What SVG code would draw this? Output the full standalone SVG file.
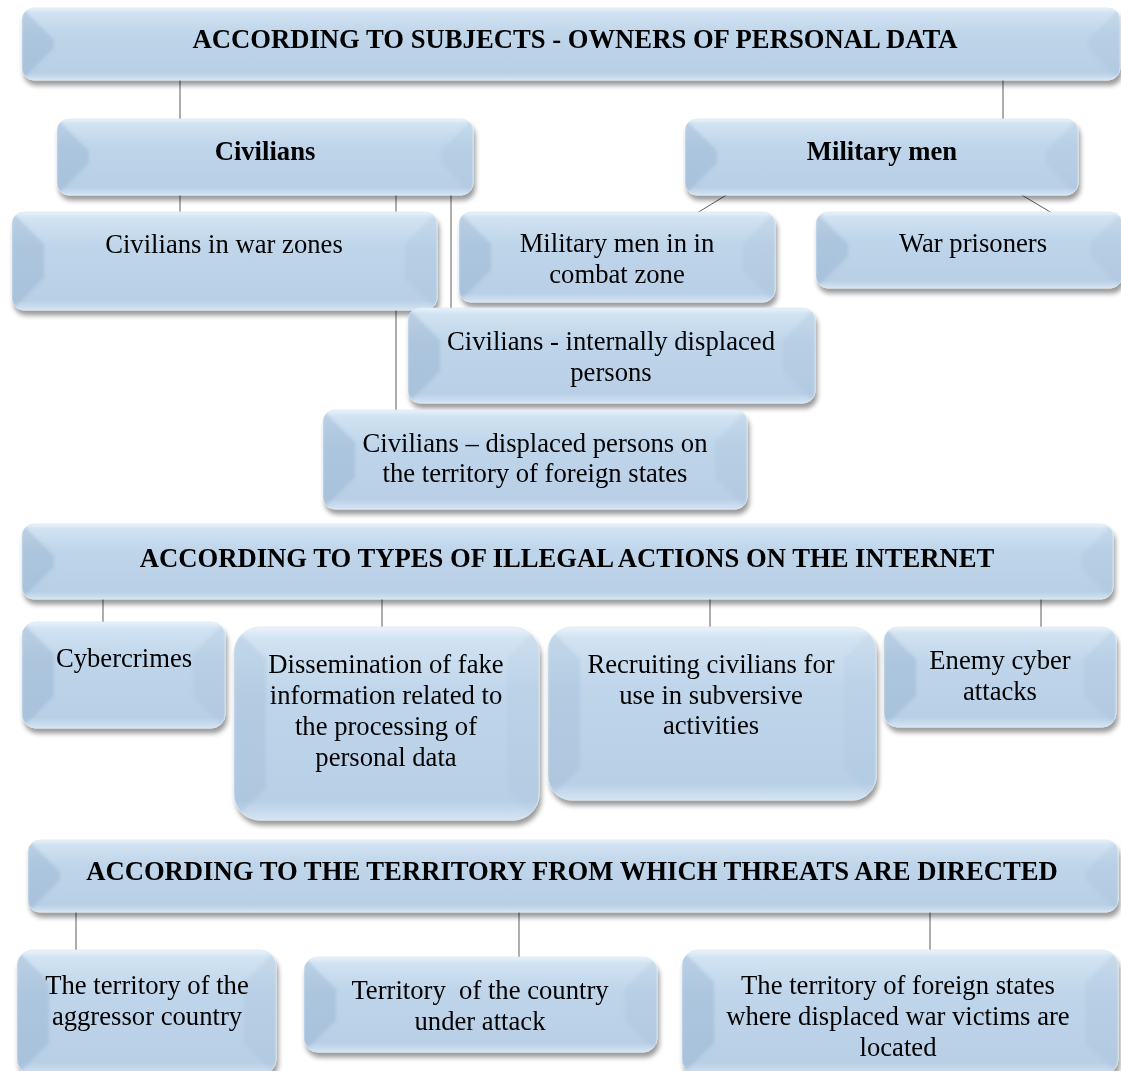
<svg xmlns="http://www.w3.org/2000/svg" width="1121" height="1071" viewBox="0 0 1121 1071">
<style>
.box{fill:url(#g);filter:url(#sh);stroke:#dbe8f4;stroke-width:0.8}
.bl{fill:#8eabc9;opacity:.36}
.br{fill:#a3bbd4;opacity:.24}
.bev{filter:url(#soft)}
text{font-family:"Liberation Serif","Times New Roman",serif;font-size:26.67px;fill:#000;text-anchor:middle}
.hd{font-weight:bold}
.conn line{stroke:#4a4a4a;stroke-width:0.9}
</style>
<defs>
<linearGradient id="g" x1="0" y1="0" x2="0" y2="1">
<stop offset="0" stop-color="#eaf3fb"/>
<stop offset="0.06" stop-color="#d2e3f2"/>
<stop offset="0.35" stop-color="#bfd5ea"/>
<stop offset="0.9" stop-color="#b8cfe6"/>
<stop offset="1" stop-color="#d3e4f3"/>
</linearGradient>
<filter id="sh" x="-5%" y="-10%" width="110%" height="135%">
<feGaussianBlur in="SourceAlpha" stdDeviation="2.5"/>
<feOffset dx="2" dy="5"/>
<feComponentTransfer><feFuncA type="linear" slope="0.4"/></feComponentTransfer>
<feMerge><feMergeNode/><feMergeNode in="SourceGraphic"/></feMerge>
</filter>
<filter id="soft" x="-5%" y="-5%" width="110%" height="110%"><feGaussianBlur stdDeviation="1.5"/></filter>
<clipPath id="c1"><rect x="22" y="8" width="1098" height="72" rx="12"/></clipPath>
<clipPath id="c2"><rect x="57" y="119" width="416" height="76" rx="12"/></clipPath>
<clipPath id="c3"><rect x="685" y="119" width="393" height="76" rx="12"/></clipPath>
<clipPath id="c4"><rect x="12" y="212" width="425" height="98" rx="12"/></clipPath>
<clipPath id="c5"><rect x="459" y="212" width="316" height="90" rx="12"/></clipPath>
<clipPath id="c6"><rect x="816" y="212" width="306" height="76" rx="12"/></clipPath>
<clipPath id="c7"><rect x="408" y="308" width="407" height="95" rx="12"/></clipPath>
<clipPath id="c8"><rect x="323" y="410" width="424" height="99" rx="12"/></clipPath>
<clipPath id="c9"><rect x="22" y="524" width="1091" height="75" rx="12"/></clipPath>
<clipPath id="c10"><rect x="22" y="622" width="203" height="106" rx="14"/></clipPath>
<clipPath id="c11"><rect x="234" y="627" width="305" height="193" rx="26"/></clipPath>
<clipPath id="c12"><rect x="548" y="627" width="328" height="173" rx="24"/></clipPath>
<clipPath id="c13"><rect x="884" y="627" width="232" height="100" rx="14"/></clipPath>
<clipPath id="c14"><rect x="28" y="840" width="1090" height="72" rx="12"/></clipPath>
<clipPath id="c15"><rect x="17" y="950" width="259" height="125" rx="16"/></clipPath>
<clipPath id="c16"><rect x="304" y="957" width="353" height="95" rx="14"/></clipPath>
<clipPath id="c17"><rect x="682" y="950" width="436" height="125" rx="16"/></clipPath>
</defs>
<rect width="1121" height="1071" fill="#ffffff"/>

<g id="connectors" class="conn">
<line x1="180" y1="80" x2="180" y2="119"/>
<line x1="1003" y1="80" x2="1003" y2="119"/>
<line x1="180" y1="195" x2="180" y2="212"/>
<line x1="396" y1="195" x2="396" y2="410"/>
<line x1="451" y1="195" x2="451" y2="308"/>
<line x1="728" y1="194" x2="697" y2="213"/>
<line x1="1020" y1="194" x2="1052" y2="213"/>
<line x1="103" y1="599" x2="103" y2="622"/>
<line x1="382" y1="599" x2="382" y2="627"/>
<line x1="710" y1="599" x2="710" y2="627"/>
<line x1="1041" y1="599" x2="1041" y2="627"/>
<line x1="76" y1="912" x2="76" y2="950"/>
<line x1="519" y1="912" x2="519" y2="957"/>
<line x1="930" y1="912" x2="930" y2="950"/>
</g>

<g id="n-header1">
<rect class="box" x="22" y="8" width="1098" height="72" rx="12"/>
<g clip-path="url(#c1)"><g class="bev"><polygon class="bl" points="22,8 54,40 54,48 22,80"/><polygon class="br" points="1120,8 1088,40 1088,48 1120,80"/></g></g>
<text class="hd" x="575" y="48">ACCORDING TO SUBJECTS - OWNERS OF PERSONAL DATA</text>
</g>

<g id="n-civilians">
<rect class="box" x="57" y="119" width="416" height="76" rx="12"/>
<g clip-path="url(#c2)"><g class="bev"><polygon class="bl" points="57,119 89,151 89,163 57,195"/><polygon class="br" points="473,119 441,151 441,163 473,195"/></g></g>
<text class="hd" x="265" y="160">Civilians</text>
</g>

<g id="n-military">
<rect class="box" x="685" y="119" width="393" height="76" rx="12"/>
<g clip-path="url(#c3)"><g class="bev"><polygon class="bl" points="685,119 717,151 717,163 685,195"/><polygon class="br" points="1078,119 1046,151 1046,163 1078,195"/></g></g>
<text class="hd" x="882" y="160">Military men</text>
</g>

<g id="n-warzones">
<rect class="box" x="12" y="212" width="425" height="98" rx="12"/>
<g clip-path="url(#c4)"><g class="bev"><polygon class="bl" points="12,212 44,244 44,278 12,310"/><polygon class="br" points="437,212 405,244 405,278 437,310"/></g></g>
<text x="224" y="253">Civilians in war zones</text>
</g>

<g id="n-milcombat">
<rect class="box" x="459" y="212" width="316" height="90" rx="12"/>
<g clip-path="url(#c5)"><g class="bev"><polygon class="bl" points="459,212 491,244 491,270 459,302"/><polygon class="br" points="775,212 743,244 743,270 775,302"/></g></g>
<text x="617" y="252">Military men in in</text>
<text x="617" y="283">combat zone</text>
</g>

<g id="n-warprisoners">
<rect class="box" x="816" y="212" width="306" height="76" rx="12"/>
<g clip-path="url(#c6)"><g class="bev"><polygon class="bl" points="816,212 848,244 848,256 816,288"/><polygon class="br" points="1122,212 1090,244 1090,256 1122,288"/></g></g>
<text x="973" y="252">War prisoners</text>
</g>

<g id="n-idp">
<rect class="box" x="408" y="308" width="407" height="95" rx="12"/>
<g clip-path="url(#c7)"><g class="bev"><polygon class="bl" points="408,308 440,340 440,371 408,403"/><polygon class="br" points="815,308 783,340 783,371 815,403"/></g></g>
<text x="611" y="350">Civilians - internally displaced</text>
<text x="611" y="381">persons</text>
</g>

<g id="n-foreign-displaced">
<rect class="box" x="323" y="410" width="424" height="99" rx="12"/>
<g clip-path="url(#c8)"><g class="bev"><polygon class="bl" points="323,410 355,442 355,477 323,509"/><polygon class="br" points="747,410 715,442 715,477 747,509"/></g></g>
<text x="535" y="452">Civilians – displaced persons on</text>
<text x="535" y="482">the territory of foreign states</text>
</g>

<g id="n-header2">
<rect class="box" x="22" y="524" width="1091" height="75" rx="12"/>
<g clip-path="url(#c9)"><g class="bev"><polygon class="bl" points="22,524 54,556 54,567 22,599"/><polygon class="br" points="1113,524 1081,556 1081,567 1113,599"/></g></g>
<text class="hd" x="567" y="567">ACCORDING TO TYPES OF ILLEGAL ACTIONS ON THE INTERNET</text>
</g>

<g id="n-cybercrimes">
<rect class="box" x="22" y="622" width="203" height="106" rx="14"/>
<g clip-path="url(#c10)"><g class="bev"><polygon class="bl" points="22,622 54,654 54,696 22,728"/><polygon class="br" points="225,622 193,654 193,696 225,728"/></g></g>
<text x="124" y="667">Cybercrimes</text>
</g>

<g id="n-dissemination">
<rect class="box" x="234" y="627" width="305" height="193" rx="26"/>
<g clip-path="url(#c11)"><g class="bev" opacity="0.6"><polygon class="bl" points="234,627 266,659 266,788 234,820"/><polygon class="br" points="539,627 507,659 507,788 539,820"/></g></g>
<text x="386" y="673">Dissemination of fake</text>
<text x="386" y="704">information related to</text>
<text x="386" y="735">the processing of</text>
<text x="386" y="766">personal data</text>
</g>

<g id="n-recruiting">
<rect class="box" x="548" y="627" width="328" height="173" rx="24"/>
<g clip-path="url(#c12)"><g class="bev" opacity="0.6"><polygon class="bl" points="548,627 580,659 580,768 548,800"/><polygon class="br" points="876,627 844,659 844,768 876,800"/></g></g>
<text x="711" y="673">Recruiting civilians for</text>
<text x="711" y="704">use in subversive</text>
<text x="711" y="734">activities</text>
</g>

<g id="n-enemy">
<rect class="box" x="884" y="627" width="232" height="100" rx="14"/>
<g clip-path="url(#c13)"><g class="bev"><polygon class="bl" points="884,627 916,659 916,695 884,727"/><polygon class="br" points="1116,627 1084,659 1084,695 1116,727"/></g></g>
<text x="1000" y="669">Enemy cyber</text>
<text x="1000" y="700">attacks</text>
</g>

<g id="n-header3">
<rect class="box" x="28" y="840" width="1090" height="72" rx="12"/>
<g clip-path="url(#c14)"><g class="bev"><polygon class="bl" points="28,840 60,872 60,880 28,912"/><polygon class="br" points="1118,840 1086,872 1086,880 1118,912"/></g></g>
<text class="hd" x="572" y="880">ACCORDING TO THE TERRITORY FROM WHICH THREATS ARE DIRECTED</text>
</g>

<g id="n-aggressor">
<rect class="box" x="17" y="950" width="259" height="125" rx="16"/>
<g clip-path="url(#c15)"><g class="bev"><polygon class="bl" points="17,950 49,982 49,1043 17,1075"/><polygon class="br" points="276,950 244,982 244,1043 276,1075"/></g></g>
<text x="147" y="994">The territory of the</text>
<text x="147" y="1025">aggressor country</text>
</g>

<g id="n-attack">
<rect class="box" x="304" y="957" width="353" height="95" rx="14"/>
<g clip-path="url(#c16)"><g class="bev"><polygon class="bl" points="304,957 336,989 336,1020 304,1052"/><polygon class="br" points="657,957 625,989 625,1020 657,1052"/></g></g>
<text x="480" y="999" xml:space="preserve">Territory  of the country</text>
<text x="480" y="1030">under attack</text>
</g>

<g id="n-foreign">
<rect class="box" x="682" y="950" width="436" height="125" rx="16"/>
<g clip-path="url(#c17)"><g class="bev"><polygon class="bl" points="682,950 714,982 714,1043 682,1075"/><polygon class="br" points="1118,950 1086,982 1086,1043 1118,1075"/></g></g>
<text x="898" y="994">The territory of foreign states</text>
<text x="898" y="1025">where displaced war victims are</text>
<text x="898" y="1056">located</text>
</g>
</svg>
